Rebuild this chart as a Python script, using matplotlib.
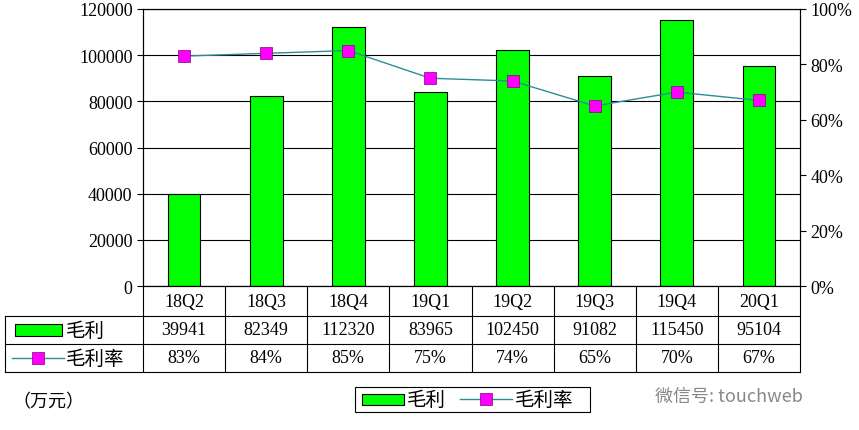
import matplotlib.pyplot as plt
from matplotlib.patches import Rectangle
from matplotlib.lines import Line2D

quarters = ["18Q2", "18Q3", "18Q4", "19Q1", "19Q2", "19Q3", "19Q4", "20Q1"]
profit = [39941, 82349, 112320, 83965, 102450, 91082, 115450, 95104]
margin = [83, 84, 85, 75, 74, 65, 70, 67]

W, H = 859, 431
serif = ["Liberation Serif", "Noto Sans CJK SC"]
cjk = ["Noto Sans CJK SC", "DejaVu Sans"]
green = "#00FF00"
line_c = "#2E8B9A"
mag = "#FF00FF"

fig = plt.figure(figsize=(W / 100, H / 100), dpi=100)
x0, x1, yt, yb = 143, 800, 10, 287
ax = fig.add_axes([x0 / W, 1 - yb / H, (x1 - x0) / W, (yb - yt) / H])
xs = range(len(quarters))
ax.bar(xs, profit, width=0.4, color=green, edgecolor="black", linewidth=0.8, zorder=2)
ax.set_xlim(-0.5, len(quarters) - 0.5)
ax.set_ylim(0, 120000)
ax.set_yticks(range(0, 120001, 20000))
ax.set_yticklabels([str(v) for v in range(0, 120001, 20000)], fontfamily=serif, fontsize=13)
ax.grid(axis="y", color="black", linewidth=0.8, zorder=0)
ax.set_xticks([])
ax.tick_params(axis="y", length=4, direction="out")
for s in ax.spines.values():
    s.set_linewidth(0.8)

ax2 = ax.twinx()
ax2.plot(xs, margin, color=line_c, linewidth=1, marker="s", markersize=9,
         markerfacecolor=mag, markeredgecolor="#800080", markeredgewidth=0.5)
ax2.set_ylim(0, 100)
ax2.set_yticks(range(0, 101, 20))
ax2.set_yticklabels([f"{v}%" for v in range(0, 101, 20)], fontfamily=serif, fontsize=13)
ax2.tick_params(axis="y", length=4)

# data table drawn in pixel coordinates
def fx(px):
    return px / W

def fy(py):
    return 1 - py / H

cw = (x1 - x0) / len(quarters)
rows = [287, 317, 345, 373]
for r in rows[1:]:
    fig.add_artist(Line2D([fx(5), fx(x1)], [fy(r), fy(r)], color="black", lw=0.8))
fig.add_artist(Line2D([fx(5), fx(5)], [fy(317), fy(373)], color="black", lw=0.8))
for i in range(len(quarters) + 1):
    xp = x0 + i * cw
    fig.add_artist(Line2D([fx(xp), fx(xp)], [fy(287), fy(373)], color="black", lw=0.8))
for i, q in enumerate(quarters):
    cx = fx(x0 + (i + 0.5) * cw)
    fig.text(cx, fy(302), q, ha="center", va="center", fontfamily=serif, fontsize=13)
    fig.text(cx, fy(331), str(profit[i]), ha="center", va="center", fontfamily=serif, fontsize=13)
    fig.text(cx, fy(359), f"{margin[i]}%", ha="center", va="center", fontfamily=serif, fontsize=13)

fig.add_artist(Rectangle((fx(15), fy(337)), fx(47), 12 / H, facecolor=green, edgecolor="black", lw=0.8))
fig.text(fx(66), fy(331), "毛利", ha="left", va="center", fontfamily=cjk, fontsize=14)
fig.add_artist(Line2D([fx(12), fx(64)], [fy(359), fy(359)], color=line_c, lw=1))
fig.add_artist(Line2D([fx(38)], [fy(359)], marker="s", markersize=9, markerfacecolor=mag,
                      markeredgecolor="#800080", markeredgewidth=0.5))
fig.text(fx(66), fy(359), "毛利率", ha="left", va="center", fontfamily=cjk, fontsize=14)

fig.text(fx(12), fy(402), "（万元）", ha="left", va="center", fontfamily=cjk, fontsize=13)

# legend box
fig.add_artist(Rectangle((fx(355), fy(413)), fx(235), 25 / H, facecolor="white", edgecolor="black", lw=0.8))
fig.add_artist(Rectangle((fx(362), fy(406)), fx(42), 11 / H, facecolor=green, edgecolor="black", lw=0.8))
fig.text(fx(407), fy(400), "毛利", ha="left", va="center", fontfamily=cjk, fontsize=14)
fig.add_artist(Line2D([fx(460), fx(512)], [fy(400), fy(400)], color=line_c, lw=1))
fig.add_artist(Line2D([fx(486)], [fy(400)], marker="s", markersize=9, markerfacecolor=mag,
                      markeredgecolor="#800080", markeredgewidth=0.5))
fig.text(fx(515), fy(400), "毛利率", ha="left", va="center", fontfamily=cjk, fontsize=14)

fig.text(fx(655), fy(397), "微信号: touchweb", ha="left", va="center", fontfamily=cjk,
         fontsize=13, color="#888888")

fig.savefig("out.png", dpi=100)
